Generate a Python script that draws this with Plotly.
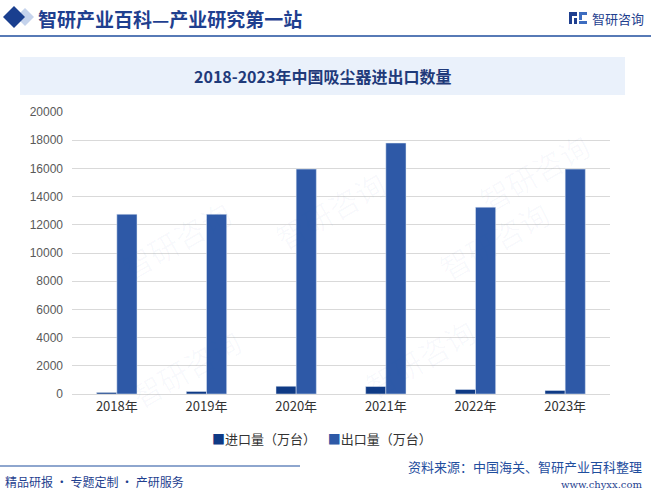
import plotly.graph_objects as go

years = ["2018年", "2019年", "2020年", "2021年", "2022年", "2023年"]
imports = [110, 180, 550, 530, 320, 250]
exports = [12750, 12750, 15950, 17800, 13250, 15950]
yticks = list(range(0, 20001, 2000))
series_names = ["进口量（万台）", "出口量（万台）"]
series_colors = ["#0F3A85", "#2E59A7"]

W, H = 651, 492
L, R, T, B = 72, 41, 112, 98
PW, PH = W - L - R, H - T - B


def X(px):
    return (px - L) / PW


def Y(py):
    return (H - B - py) / PH


fig = go.Figure()
fig.add_trace(go.Bar(name=series_names[0], x=years, y=imports, marker_color=series_colors[0]))
fig.add_trace(go.Bar(name=series_names[1], x=years, y=exports, marker_color=series_colors[1]))

shapes = []
annotations = []

# watermarks (faint)
for (wx, wy) in [(110, 240), (330, 210), (560, 240), (120, 420), (420, 410), (600, 120)]:
    annotations.append(dict(x=X(wx), y=Y(wy), xref="paper", yref="paper", text="智研咨询",
                            showarrow=False, textangle=-30,
                            font=dict(size=30, color="rgba(40,90,170,0.03)", family="Noto Sans CJK SC")))

# header
shapes.append(dict(type="path", xref="paper", yref="paper",
                   path=f"M {X(25)} {Y(8)} L {X(34)} {Y(17)} L {X(25)} {Y(26)} L {X(16)} {Y(17)} Z",
                   fillcolor="#C5D3EC", line=dict(width=0)))
shapes.append(dict(type="path", xref="paper", yref="paper",
                   path=f"M {X(14)} {Y(6)} L {X(25)} {Y(17)} L {X(14)} {Y(28)} L {X(3)} {Y(17)} Z",
                   fillcolor="#1A3F8F", line=dict(width=0)))
shapes.append(dict(type="line", xref="paper", yref="paper", x0=X(0), x1=X(651), y0=Y(36), y1=Y(36),
                   line=dict(color="#1F4E9E", width=1.5)))
annotations.append(dict(x=X(36), y=Y(18), xref="paper", yref="paper", xanchor="left", yanchor="middle",
                        text="<b>智研产业百科—产业研究第一站</b>", showarrow=False,
                        font=dict(size=19, color="#1F3F8F", family="Noto Sans CJK SC")))
# logo
for (x0, y0, x1, y1, c) in [(569, 12, 577, 16, "#1F3F8F"), (569, 16, 572, 24, "#1F3F8F"),
                            (574, 18, 577, 24, "#1F3F8F"), (579, 12, 587, 15, "#3C6CC0"),
                            (579, 15, 582, 20, "#3C6CC0"), (579, 21, 587, 24, "#3C6CC0")]:
    shapes.append(dict(type="rect", xref="paper", yref="paper", x0=X(x0), x1=X(x1), y0=Y(y1), y1=Y(y0),
                       fillcolor=c, line=dict(width=0)))
annotations.append(dict(x=X(590), y=Y(18), xref="paper", yref="paper", xanchor="left", yanchor="middle",
                        text="智研咨询", showarrow=False,
                        font=dict(size=13, color="#1F3F8F", family="Noto Sans CJK SC")))

# title box
shapes.append(dict(type="rect", xref="paper", yref="paper", x0=X(20), x1=X(625), y0=Y(95), y1=Y(57),
                   fillcolor="#EAF1FB", line=dict(width=0), layer="below"))
annotations.append(dict(x=X(322), y=Y(76), xref="paper", yref="paper", xanchor="center", yanchor="middle",
                        text="<b>2018-2023年中国吸尘器进出口数量</b>", showarrow=False,
                        font=dict(size=16, color="#1F3A7A", family="Noto Sans CJK SC")))

# legend (custom, compact)
annotations.append(dict(x=X(322), y=Y(438), xref="paper", yref="paper", xanchor="center", yanchor="middle",
                        text=(f"<span style='color:{series_colors[0]}'>■</span>{series_names[0]}"
                              f"    <span style='color:{series_colors[1]}'>■</span>{series_names[1]}"),
                        showarrow=False,
                        font=dict(size=13, color="#333333", family="Noto Sans CJK SC")))

# footer
shapes.append(dict(type="line", xref="paper", yref="paper", x0=X(0), x1=X(300), y0=Y(466), y1=Y(466),
                   line=dict(color="#1F4E9E", width=1.2)))
annotations.append(dict(x=X(3), y=Y(481), xref="paper", yref="paper", xanchor="left", yanchor="middle",
                        text="精品研报 · 专题定制 · 产研服务", showarrow=False,
                        font=dict(size=12, color="#1F3F8F", family="Noto Sans CJK SC")))
annotations.append(dict(x=X(644), y=Y(467), xref="paper", yref="paper", xanchor="right", yanchor="middle",
                        text="资料来源：中国海关、智研产业百科整理", showarrow=False,
                        font=dict(size=13, color="#1F4E9E", family="Noto Sans CJK SC")))
annotations.append(dict(x=X(644), y=Y(484), xref="paper", yref="paper", xanchor="right", yanchor="middle",
                        text="www.chyxx.com", showarrow=False,
                        font=dict(size=10, color="#1F3F8F", family="DejaVu Serif")))

fig.update_layout(
    width=W, height=H,
    margin=dict(l=L, r=R, t=T, b=B),
    paper_bgcolor="white", plot_bgcolor="white",
    barmode="group", bargap=0.55, bargroupgap=0,
    font=dict(family="Liberation Sans", color="#595959"),
    showlegend=False,
    shapes=shapes, annotations=annotations,
)
fig.update_xaxes(showline=True, linecolor="#D9D9D9", linewidth=1, ticks="",
                 tickfont=dict(size=13, color="#333333", family="Noto Sans CJK SC"))
fig.update_yaxes(range=[0, 20000], tickvals=yticks, tickformat="d", showgrid=True, gridcolor="#D9D9D9",
                 zeroline=False, showline=False, ticks="", ticklen=0, ticklabelstandoff=8,
                 tickfont=dict(size=12, color="#595959"))

fig.write_html("out.html", config={"displayModeBar": False},
               post_script="document.body.style.margin='0';")
